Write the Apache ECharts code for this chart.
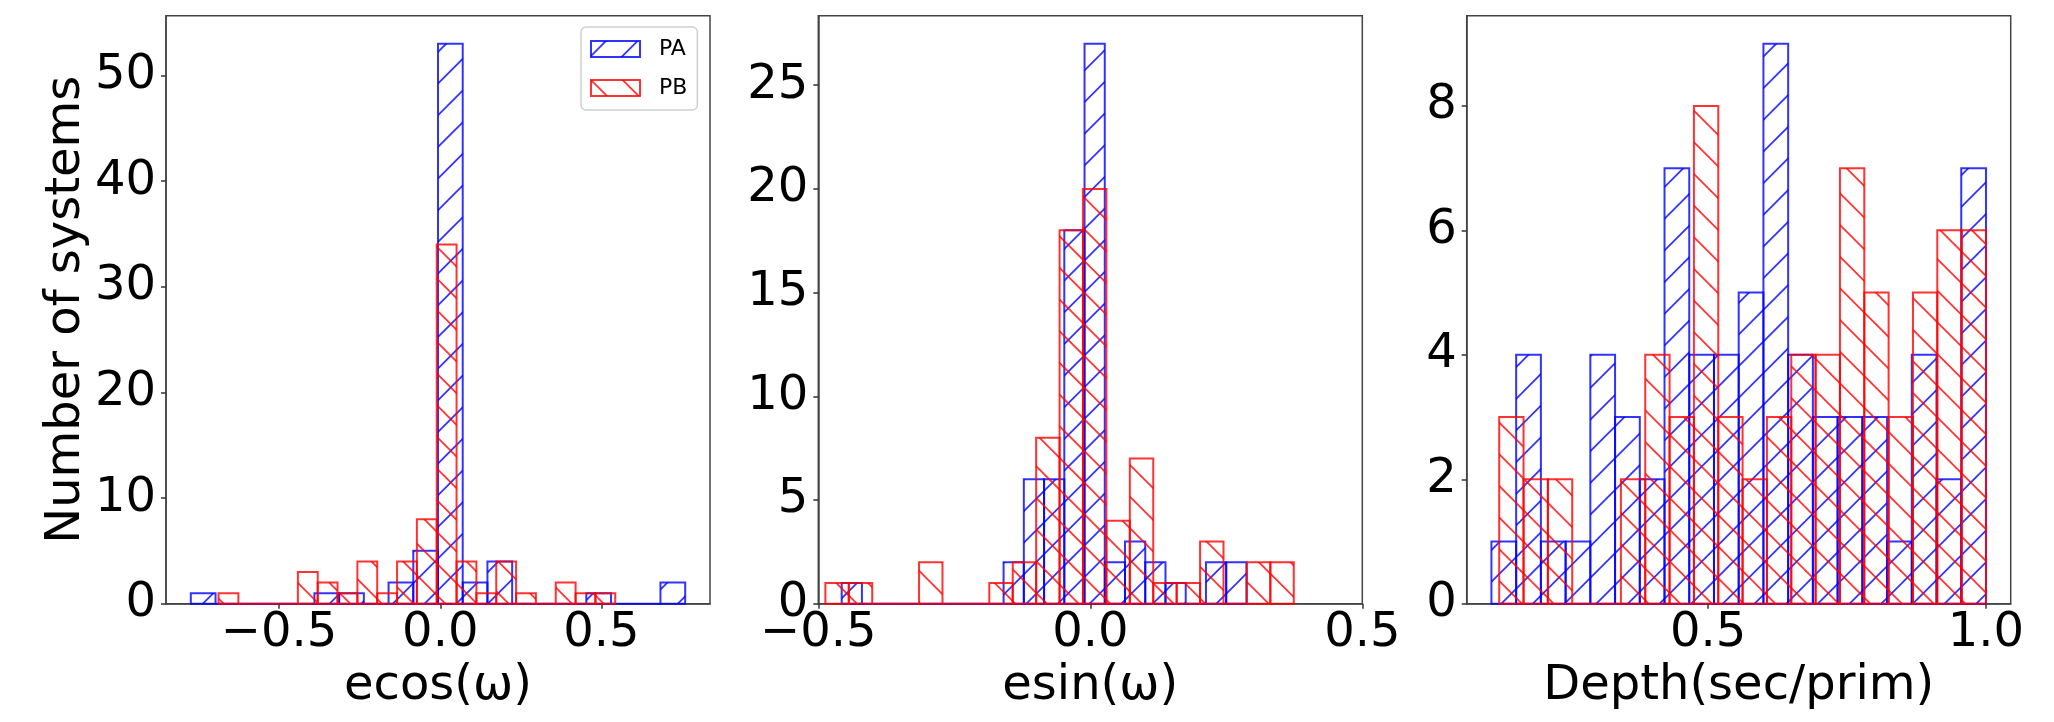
<!DOCTYPE html>
<html>
<head>
<meta charset="utf-8">
<script src="https://cdn.jsdelivr.net/npm/echarts@6/dist/echarts.min.js"></script>
<style>
html,body{margin:0;padding:0;background:#fff;}
#chart{width:2054px;height:722px;}
</style>
</head>
<body>
<div id="chart"></div>
<script>
// ---- data (histogram bin ranges [first edge, last edge] and counts per bin, 20 bins) ----
const ecosRangePA = [-0.774, 0.760];
const ecosPA = [1,0,0,0,0,1,1,0,2,5,53,2,4,0,0,0,1,0,0,2];
const ecosRangePB = [-0.688, 0.543];
const ecosPB = [1,0,0,0,3,2,1,4,1,4,8,34,4,1,4,1,0,2,1,1];

const esinRangePA = [-0.457, 0.287];
const esinPA = [1,0,0,0,0,0,0,0,2,6,6,18,27,2,3,2,1,0,2,2];
const esinRangePB = [-0.487, 0.374];
const esinPB = [1,1,0,0,2,0,0,1,2,8,18,20,4,7,1,1,3,0,2,2];

const depthRangePA = [0.110, 1.0];
const depthPA = [1,4,1,1,4,3,2,7,4,4,5,9,4,3,3,3,1,4,2,7];
const depthRangePB = [0.124, 1.0];
const depthPB = [3,2,2,0,0,2,4,3,8,3,2,3,4,4,7,5,3,5,6,6];

const xNames = ['ecos(ω)', 'esin(ω)', 'Depth(sec/prim)'];
const yName = 'Number of systems';
const xLimits = [[-0.851, 0.837], [-0.5, 0.5], [0.0655, 1.0445]];
const yLimits = [55.65, 28.35, 9.45];
const xTicks = [[-0.5, 0, 0.5], [-0.5, 0, 0.5], [0.5, 1.0]];
const yTicks = [[0,10,20,30,40,50], [0,5,10,15,20,25], [0,2,4,6,8]];
const seriesNames = ['PA', 'PB'];

// ---- styling ----
const FONT = 'DejaVu Sans';
const BLUE = 'rgba(0,0,255,0.8)';
const RED = 'rgba(255,0,0,0.8)';
const PERIOD = 31.67;

function makeHatch(color, dir, phase) {
  const T = 95;
  const cv = document.createElement('canvas');
  cv.width = T; cv.height = T;
  const ctx = cv.getContext('2d');
  ctx.strokeStyle = color;
  ctx.lineWidth = 1.8;
  for (let k = -4; k <= 10; k++) {
    const c = phase + k * PERIOD;
    ctx.beginPath();
    if (dir === '/') {
      ctx.moveTo(c + 10, -10);
      ctx.lineTo(c - T - 10, T + 10);
    } else {
      ctx.moveTo(c - 10, -10);
      ctx.lineTo(c + T + 10, T + 10);
    }
    ctx.stroke();
  }
  return { image: cv, repeat: 'repeat' };
}
const patA = makeHatch(BLUE, '/', 14.9);
const patB = makeHatch(RED, '\\', 0);

function bins(range, counts) {
  const w = (range[1] - range[0]) / counts.length;
  return counts.map((c, i) => [range[0] + i * w, range[0] + (i + 1) * w, c]);
}

function renderer(pattern, color) {
  return function (params, api) {
    const p0 = api.coord([api.value(0), api.value(2)]);
    const p1 = api.coord([api.value(1), 0]);
    return {
      type: 'rect',
      shape: { x: p0[0], y: p0[1], width: p1[0] - p0[0], height: p1[1] - p0[1] },
      style: { fill: pattern, stroke: color, lineWidth: 2 }
    };
  };
}

const lefts = [166, 818.3, 1466.7];
const grids = lefts.map(l => ({
  left: l, top: 15.7, width: 544, height: 588,
  show: true, borderColor: '#444', borderWidth: 1.5, backgroundColor: 'transparent'
}));

const fmtX = v => (Math.abs(v) < 1e-9 ? '0.0' : v.toFixed(1).replace('-', '\u2212'));

const xAxes = [0,1,2].map(i => ({
  type: 'value', gridIndex: i, min: xLimits[i][0], max: xLimits[i][1],
  name: xNames[i], nameLocation: 'middle', nameGap: 56,
  nameTextStyle: { fontFamily: FONT, fontSize: 48, color: '#000' },
  axisLine: { show: true, onZero: false, lineStyle: { color: '#444', width: 1.5 } },
  axisTick: { show: true, length: 5, customValues: xTicks[i], lineStyle: { color: '#333', width: 1.5 } },
  axisLabel: { show: true, customValues: xTicks[i], formatter: fmtX, margin: 6,
    fontFamily: FONT, fontSize: 48, color: '#000' },
  splitLine: { show: false }
}));

const yAxes = [0,1,2].map(i => ({
  type: 'value', gridIndex: i, min: 0, max: yLimits[i],
  name: i === 0 ? yName : '', nameLocation: 'middle', nameGap: 74,
  nameTextStyle: { fontFamily: FONT, fontSize: 48, color: '#000' },
  axisLine: { show: true, onZero: false, lineStyle: { color: '#444', width: 1.5 } },
  axisTick: { show: true, length: 5, customValues: yTicks[i], lineStyle: { color: '#333', width: 1.5 } },
  axisLabel: { show: true, customValues: yTicks[i], formatter: v => String(v), margin: 10,
    fontFamily: FONT, fontSize: 48, color: '#000' },
  splitLine: { show: false }
}));

const panelData = [
  [bins(ecosRangePA, ecosPA), bins(ecosRangePB, ecosPB)],
  [bins(esinRangePA, esinPA), bins(esinRangePB, esinPB)],
  [bins(depthRangePA, depthPA), bins(depthRangePB, depthPB)]
];

const series = [];
panelData.forEach((pd, i) => {
  series.push({ type: 'custom', name: seriesNames[0], xAxisIndex: i, yAxisIndex: i,
    renderItem: renderer(patA, BLUE), data: pd[0], itemStyle: { color: BLUE },
    encode: { x: [0, 1], y: 2 }, silent: true, z: 2 });
  series.push({ type: 'custom', name: seriesNames[1], xAxisIndex: i, yAxisIndex: i,
    renderItem: renderer(patB, RED), data: pd[1], itemStyle: { color: RED },
    encode: { x: [0, 1], y: 2 }, silent: true, z: 3 });
});

const chart = echarts.init(document.getElementById('chart'), null, { renderer: 'canvas' });
chart.setOption({
  animation: false,
  backgroundColor: '#fff',
  grid: grids,
  xAxis: xAxes,
  yAxis: yAxes,
  legend: {
    orient: 'vertical', left: 581, top: 27,
    itemWidth: 49, itemHeight: 16, itemGap: 17,
    padding: [11, 10, 11, 9],
    backgroundColor: 'rgba(255,255,255,0.8)',
    borderColor: '#d0d0d0', borderWidth: 1.5, borderRadius: 5,
    textStyle: { fontFamily: FONT, fontSize: 22, color: '#000', padding: [0, 0, 0, 14] },
    selectedMode: false,
    data: [
      { name: seriesNames[0], icon: 'rect', itemStyle: { color: patA, borderColor: BLUE, borderWidth: 2 } },
      { name: seriesNames[1], icon: 'rect', itemStyle: { color: patB, borderColor: RED, borderWidth: 2 } }
    ]
  },
  series: series
});
</script>
</body>
</html>
